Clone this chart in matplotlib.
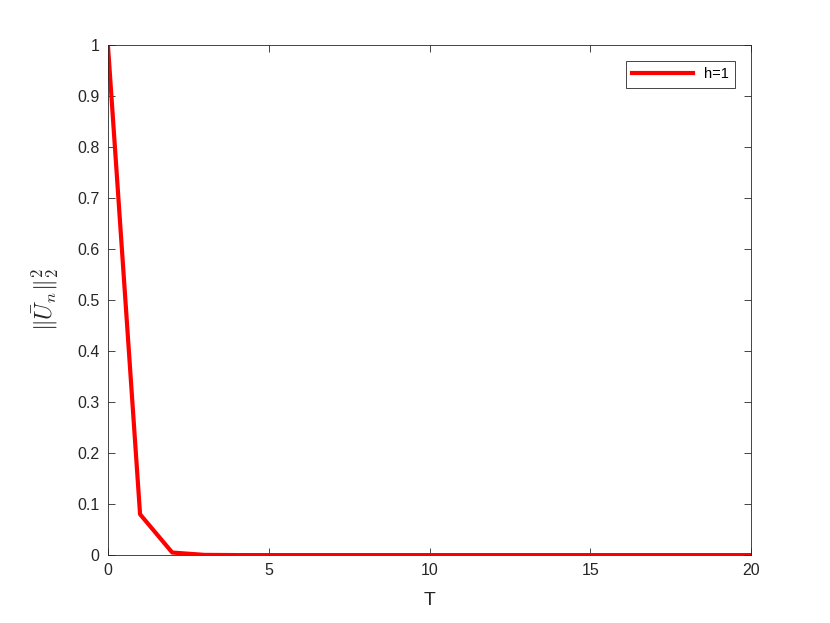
import numpy as np

import matplotlib
matplotlib.use('Agg')

from matplotlib import pyplot as plt

plt.rcParams['font.family'] = ['Liberation Sans', 'DejaVu Sans']
plt.rcParams['mathtext.fontset'] = 'cm'

# data
T = [0, 1, 2, 3, 4, 5, 6, 7, 8, 9, 10, 11, 12, 13, 14, 15, 16, 17, 18, 19, 20]
U_norm = [1.0, 0.08, 0.005, 0.0004, 0.00003, 0, 0, 0, 0, 0, 0,
          0, 0, 0, 0, 0, 0, 0, 0, 0, 0]
x_ticks = [0, 5, 10, 15, 20]
y_ticks = [0, 0.1, 0.2, 0.3, 0.4, 0.5, 0.6, 0.7, 0.8, 0.9, 1]
y_tick_labels = ['0', '0.1', '0.2', '0.3', '0.4', '0.5', '0.6', '0.7', '0.8', '0.9', '1']

fig = plt.figure(figsize=(8.3, 6.23), dpi=100)
ax = fig.add_axes([0.130, 0.109, 0.775, 0.819])

ax.plot(T, U_norm, color='#ff0000', linewidth=3, label='h=1')

ax.set_xlim(0, 20)
ax.set_ylim(0, 1)
ax.set_xticks(x_ticks)
ax.set_yticks(y_ticks)
ax.set_yticklabels(y_tick_labels)

ax.tick_params(direction='in', top=True, right=True, labelsize=11.5,
               length=5, width=0.6, colors='#262626', pad=6)
for s in ax.spines.values():
    s.set_linewidth(0.6)
    s.set_color('#262626')

ax.set_xlabel('T', fontsize=14, color='#262626', labelpad=10)
ax.set_ylabel(r'$\|\bar{U}_n\|_2^2$', fontsize=17, color='#262626', labelpad=12)

leg = ax.legend(loc='upper right', fontsize=10.5, fancybox=False,
                edgecolor='#262626', framealpha=1, handlelength=4.2,
                borderaxespad=1.1, borderpad=0.45, handletextpad=0.7)
leg.get_frame().set_linewidth(0.6)

fig.savefig('out.png', dpi=100)
